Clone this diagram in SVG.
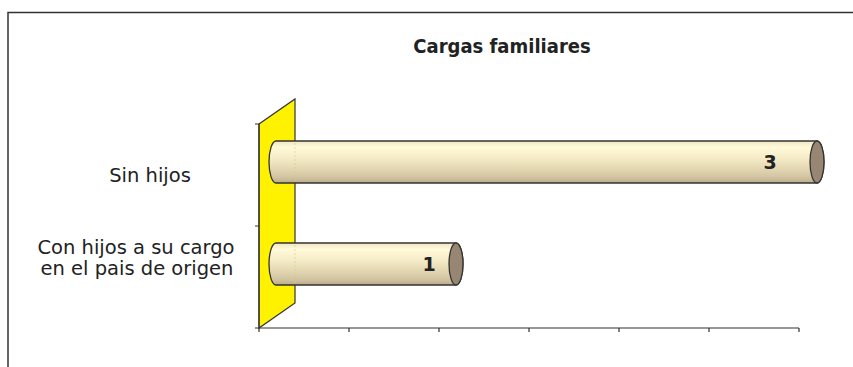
<svg xmlns="http://www.w3.org/2000/svg" width="853" height="367" viewBox="0 0 853 367">
<defs>
<linearGradient id="cyl" x1="0" y1="0" x2="0" y2="1">
<stop offset="0" stop-color="#EFE6C4"/>
<stop offset="0.15" stop-color="#FFFAD9"/>
<stop offset="0.4" stop-color="#F6ECC8"/>
<stop offset="0.65" stop-color="#E4D8B3"/>
<stop offset="0.88" stop-color="#D0C29F"/>
<stop offset="1" stop-color="#B9AA8A"/>
</linearGradient>
<style>
.lbl{font-family:"DejaVu Sans","Liberation Sans",sans-serif;font-size:19.5px;fill:#222}
.val{font-family:"DejaVu Sans","Liberation Sans",sans-serif;font-size:19px;font-weight:bold;fill:#222}
.ttl{font-family:"DejaVu Sans Condensed","DejaVu Sans",sans-serif;font-stretch:condensed;font-size:20px;font-weight:bold;fill:#222}
.ax{stroke:#333;stroke-width:1.2;fill:none}
.body{fill:url(#cyl);stroke:#333;stroke-width:1.3}
.cap{fill:#978672;stroke:#333;stroke-width:1.3}
.ghost{stroke:#D8C888;stroke-width:1;stroke-dasharray:2 2;opacity:0.6}
</style>
</defs>
<rect width="853" height="367" fill="#fff"/>
<path d="M8 367 V12.5 H853" fill="none" stroke="#333" stroke-width="1.5"/>
<text class="ttl" x="502" y="53" text-anchor="middle">Cargas familiares</text>
<g id="wall">
<polygon points="259,124 295,99 295,303 259,328" fill="#FFF200" stroke="#333" stroke-width="1.2"/>
</g>
<g id="axes">
<path class="ax" d="M259 124 V328 H799"/>
<path class="ax" d="M255 124 H259 M255 226 H259 M255 328 H259"/>
<path class="ax" d="M259 328 V332 M349 328 V332 M439 328 V332 M529 328 V332 M619 328 V332 M709 328 V332 M799 328 V332"/>
</g>
<g id="bar-sin-hijos">
<path class="body" d="M276 141 H817 A7 21 0 0 1 817 183 H276 A7 21 0 0 1 276 141 Z"/>
<line class="ghost" x1="295" y1="143" x2="295" y2="181"/>
<ellipse class="cap" cx="817" cy="162" rx="7" ry="21"/>
<text class="val" x="770" y="169" text-anchor="middle">3</text>
</g>
<g id="bar-con-hijos">
<path class="body" d="M276 243 H456 A7 21 0 0 1 456 285 H276 A7 21 0 0 1 276 243 Z"/>
<line class="ghost" x1="295" y1="245" x2="295" y2="283"/>
<ellipse class="cap" cx="456" cy="264" rx="7" ry="21"/>
<text class="val" x="429" y="271" text-anchor="middle">1</text>
</g>
<g id="labels">
<text class="lbl" x="150" y="182" text-anchor="middle">Sin hijos</text>
<text class="lbl" x="136" y="254" text-anchor="middle">Con hijos a su cargo</text>
<text class="lbl" x="137" y="275" text-anchor="middle">en el pais de origen</text>
</g>
</svg>
